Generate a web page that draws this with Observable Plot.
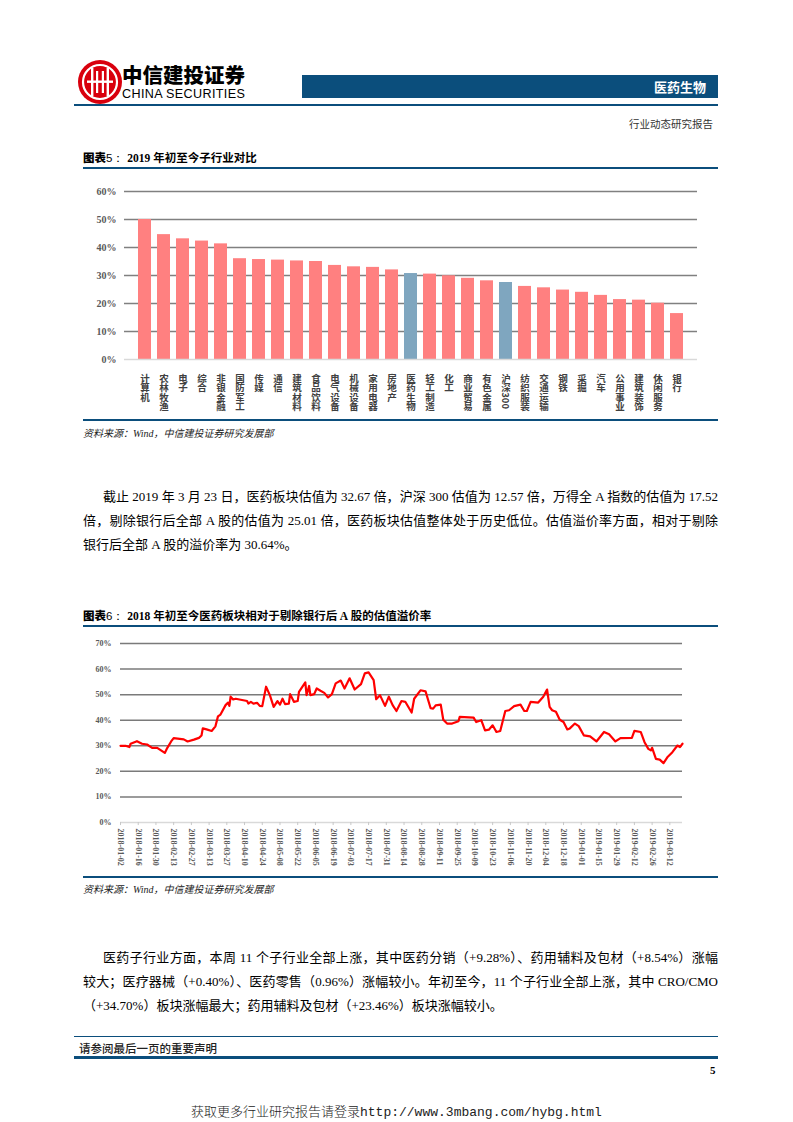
<!DOCTYPE html>
<html><head><meta charset="utf-8">
<script src="https://cdn.jsdelivr.net/npm/d3@7"></script>
<script src="https://cdn.jsdelivr.net/npm/@observablehq/plot@0.6"></script>
<style>
body{margin:0;background:#fff;}
#page{position:relative;width:793px;height:1122px;overflow:hidden;font-family:"Liberation Serif","Noto Sans CJK SC",serif;color:#000;}
.abs{position:absolute;white-space:nowrap;}
.rule{position:absolute;background:#0b4e7c;}
.body{position:absolute;font-size:13px;line-height:24px;font-weight:400;white-space:nowrap;}
.just{text-align:justify;text-align-last:justify;text-justify:inter-character;}
.src{position:absolute;font-size:10px;font-style:italic;color:#222;white-space:nowrap;}
</style></head><body><div id="page">

<svg class="abs" style="left:77px;top:59px" width="46" height="46" viewBox="0 0 46 46">
  <circle cx="23" cy="23" r="22" fill="#d9000d"/>
  <circle cx="23" cy="23" r="17" fill="none" stroke="#fff" stroke-width="2.2"/>
  <rect x="14" y="9" width="2.4" height="28" fill="#fff"/>
  <rect x="29.6" y="9" width="2.4" height="28" fill="#fff"/>
  <rect x="19" y="12" width="2.2" height="22" fill="#fff"/>
  <rect x="24.8" y="12" width="2.2" height="22" fill="#fff"/>
  <rect x="10" y="21.5" width="26" height="2.4" fill="#fff"/>
</svg>
<div class="abs" style="left:122px;top:64px;font-family:'Noto Sans CJK SC';font-weight:900;font-size:20.5px;line-height:20px;">中信建投证券</div>
<div class="abs" style="left:122px;top:88px;font-family:'Liberation Sans';font-size:12.6px;line-height:12px;letter-spacing:0.35px">CHINA SECURITIES</div>
<div class="abs" style="left:302px;top:75px;width:416px;height:23px;background:#0b4e7c;"></div>
<div class="abs" style="left:654px;top:78px;color:#fff;font-family:'Noto Sans CJK SC';font-weight:700;font-size:13px;line-height:17px">医药生物</div>
<div class="rule" style="left:74px;top:104px;width:644px;height:2px"></div>
<div class="abs" style="left:629px;top:117px;font-family:'Noto Sans CJK SC';font-size:10.5px;line-height:14px;color:#333">行业动态研究报告</div>

<div class="abs" style="left:83px;top:149px;font-size:11.5px;line-height:16px"><span style="font-family:'Noto Sans CJK SC';font-weight:900">图表</span><span style="font-family:'Liberation Sans'">5：</span> <b style="font-family:'Liberation Serif'">2019</b> <span style="font-family:'Noto Sans CJK SC';font-weight:700">年初至今子行业对比</span></div>
<div class="rule" style="left:83px;top:167px;width:635px;height:2px"></div>
<div id="chart1" class="abs" style="left:83px;top:180px"></div>
<div class="rule" style="left:83px;top:419px;width:635px;height:2px"></div>
<div class="src" style="left:83px;top:425px">资料来源：Wind，中信建投证券研究发展部</div>

<div class="body just" style="left:103px;top:485px;width:615px">截止 2019 年 3 月 23 日，医药板块估值为 32.67 倍，沪深 300 估值为 12.57 倍，万得全 A 指数的估值为 17.52</div>
<div class="body just" style="left:83px;top:509px;width:635px">倍，剔除银行后全部 A 股的估值为 25.01 倍，医药板块估值整体处于历史低位。估值溢价率方面，相对于剔除</div>
<div class="body" style="left:83px;top:533px">银行后全部 A 股的溢价率为 30.64%。</div>

<div class="abs" style="left:83px;top:607px;font-size:11.5px;line-height:16px"><span style="font-family:'Noto Sans CJK SC';font-weight:900">图表</span><span style="font-family:'Liberation Sans'">6：</span> <b style="font-family:'Liberation Serif'">2018</b> <span style="font-family:'Noto Sans CJK SC';font-weight:700">年初至今医药板块相对于剔除银行后 </span><b style="font-family:'Liberation Serif'">A</b><span style="font-family:'Noto Sans CJK SC';font-weight:700"> 股的估值溢价率</span></div>
<div class="rule" style="left:83px;top:625px;width:635px;height:2px"></div>
<div id="chart2" class="abs" style="left:83px;top:632px"></div>
<div class="rule" style="left:83px;top:876px;width:635px;height:2px"></div>
<div class="src" style="left:83px;top:881px">资料来源：Wind，中信建投证券研究发展部</div>

<div class="body just" style="left:103px;top:946px;width:615px">医药子行业方面，本周 11 个子行业全部上涨，其中医药分销（+9.28%）、药用辅料及包材（+8.54%）涨幅</div>
<div class="body just" style="left:83px;top:970px;width:635px">较大；医疗器械（+0.40%）、医药零售（0.96%）涨幅较小。年初至今，11 个子行业全部上涨，其中 CRO/CMO</div>
<div class="body" style="left:83px;top:994px">（+34.70%）板块涨幅最大；药用辅料及包材（+23.46%）板块涨幅较小。</div>

<div class="rule" style="left:74px;top:1036px;width:644px;height:1px"></div>
<div class="abs" style="left:79px;top:1040px;font-family:'Noto Sans CJK SC';font-size:11.5px;line-height:16px;font-weight:500;color:#222">请参阅最后一页的重要声明</div>
<div class="rule" style="left:74px;top:1056px;width:644px;height:3px"></div>
<div class="abs" style="left:710px;top:1063px;font-family:'Liberation Serif';font-weight:700;font-size:11px;line-height:14px">5</div>

<div class="abs" style="left:191px;top:1102px;font-size:13px;line-height:18px;color:#222"><span style="font-family:'Noto Sans CJK SC';font-weight:300">获取更多行业研究报告请登录</span><span style="font-family:'Liberation Mono'">http://www.3mbang.com/hybg.html</span></div>

</div>
<script>
// ---------- Chart 1 data: 2019 YTD return by industry (%) ----------
const industries = ["计算机","农林牧渔","电子","综合","非银金融","国防军工","传媒","通信","建筑材料","食品饮料","电气设备","机械设备","家用电器","房地产","医药生物","轻工制造","化工","商业贸易","有色金属","沪深300","纺织服装","交通运输","钢铁","采掘","汽车","公用事业","建筑装饰","休闲服务","银行"];
const ytdReturn = [50.0,44.6,43.1,42.3,41.3,36.0,35.7,35.5,35.2,35.0,33.6,33.1,32.9,32.0,30.7,30.5,29.9,29.0,28.1,27.5,26.1,25.6,24.8,24.0,22.9,21.4,21.2,20.1,16.4];
const highlighted = ["医药生物","沪深300"];
const yTicks1 = [0,0.1,0.2,0.3,0.4,0.5,0.6];

// ---------- Chart 2 data: valuation premium (%) ----------
const premDates = [
"2018-01-02","2018-01-06","2018-01-09","2018-01-10","2018-01-15","2018-01-19","2018-01-23","2018-01-27","2018-01-31","2018-02-03",
"2018-02-06","2018-02-08","2018-02-11","2018-02-13","2018-02-21","2018-02-24","2018-03-01","2018-03-05","2018-03-07","2018-03-08",
"2018-03-11","2018-03-15","2018-03-18","2018-03-20","2018-03-22","2018-03-26","2018-03-28","2018-03-29","2018-03-30","2018-04-01",
"2018-04-03","2018-04-12","2018-04-13","2018-04-15","2018-04-17","2018-04-20","2018-04-22","2018-04-24","2018-04-27","2018-04-30",
"2018-05-03","2018-05-06","2018-05-08","2018-05-10","2018-05-12","2018-05-15","2018-05-16","2018-05-19","2018-05-22","2018-05-23",
"2018-05-28","2018-05-29","2018-05-31","2018-06-01","2018-06-04","2018-06-06","2018-06-09","2018-06-12","2018-06-15","2018-06-18",
"2018-06-21","2018-06-25","2018-06-28","2018-07-02","2018-07-06","2018-07-11","2018-07-14","2018-07-17","2018-07-21","2018-07-23",
"2018-07-26","2018-07-30","2018-08-02","2018-08-05","2018-08-08","2018-08-12","2018-08-15","2018-08-20","2018-08-22","2018-08-27",
"2018-08-31","2018-09-04","2018-09-06","2018-09-08","2018-09-12","2018-09-14","2018-09-17","2018-09-21","2018-09-26","2018-09-27",
"2018-10-08","2018-10-10","2018-10-14","2018-10-17","2018-10-20","2018-10-23","2018-10-26","2018-10-29","2018-11-02","2018-11-05",
"2018-11-09","2018-11-14","2018-11-17","2018-11-19","2018-11-22","2018-11-28","2018-12-02","2018-12-05","2018-12-07","2018-12-09",
"2018-12-12","2018-12-15","2018-12-18","2018-12-21","2018-12-23","2018-12-27","2018-12-30","2019-01-03","2019-01-08","2019-01-13",
"2019-01-19","2019-01-23","2019-01-28","2019-02-01","2019-02-10","2019-02-12","2019-02-17","2019-02-20","2019-02-23","2019-02-25",
"2019-02-26","2019-03-01","2019-03-04","2019-03-07","2019-03-10","2019-03-14","2019-03-18","2019-03-20","2019-03-22"];
const premValues = [
30.0,30.0,29.5,30.8,31.8,30.8,30.5,29.2,29.2,28.2,
27.2,29.2,31.7,33.0,32.5,31.7,32.4,33.1,34.0,36.8,
36.4,35.8,37.6,41.5,42.2,45.9,46.9,45.6,49.2,48.1,
48.4,47.5,46.5,47.2,46.5,46.8,45.6,45.5,53.1,49.8,
45.2,47.5,46.1,48.4,46.3,46.5,50.2,47.2,47.5,51.1,
54.8,49.8,53.4,49.8,50.2,52.4,51.5,50.7,48.9,50.2,
54.4,55.5,52.4,56.4,52.0,54.1,58.3,58.7,55.7,48.2,
49.8,45.6,49.2,45.9,43.6,47.5,47.2,43.0,48.4,51.7,
51.3,44.7,44.5,45.8,46.1,40.2,38.7,38.7,39.6,41.3,
41.0,39.3,40.0,36.0,36.3,38.0,35.4,35.8,43.6,43.9,
45.5,46.1,43.6,43.6,47.2,46.9,49.2,52.0,45.2,43.9,
43.3,40.2,39.3,36.4,36.8,38.7,37.7,34.1,33.7,31.7,
35.4,34.5,31.7,33.0,33.1,35.8,35.4,31.4,28.8,28.2,
29.2,24.9,24.6,23.2,25.5,27.5,30.1,29.5,30.8];
const xTickLabels2 = ["2018-01-02","2018-01-16","2018-01-30","2018-02-13","2018-02-27","2018-03-13","2018-03-27","2018-04-10","2018-04-24","2018-05-08","2018-05-22","2018-06-05","2018-06-19","2018-07-03","2018-07-17","2018-07-31","2018-08-14","2018-08-28","2018-09-11","2018-09-25","2018-10-09","2018-10-23","2018-11-06","2018-11-20","2018-12-04","2018-12-18","2019-01-01","2019-01-15","2019-01-29","2019-02-12","2019-02-26","2019-03-12"];
const yTicks2 = [0,0.1,0.2,0.3,0.4,0.5,0.6,0.7];
const xDomain2 = ["2018-01-02","2019-03-22"];

// ---------- Chart 1 ----------
const barData = industries.map((name, i) => ({name, v: ytdReturn[i] / 100, hl: highlighted.includes(name)}));
const chart1 = Plot.plot({
  width: 635, height: 235,
  marginLeft: 41, marginRight: 21, marginTop: 11, marginBottom: 56,
  style: {fontFamily: "'Liberation Serif', serif", fontSize: "10px", fontWeight: "bold", color: "#595959", background: "transparent"},
  x: {domain: industries, padding: 0.29, axis: null},
  y: {domain: [0, 0.6], ticks: yTicks1, tickFormat: d3.format(".0%"), tickSize: 0, tickPadding: 8, label: null},
  marks: [
    Plot.ruleY(yTicks1.filter(d => d > 0), {stroke: "#808080", strokeWidth: 1.5}),
    Plot.barY(barData, {x: "name", y: "v", fill: d => d.hl ? "#7fa6bf" : "#ff8080"}),
    Plot.ruleY([0], {stroke: "#d9d9d9", strokeWidth: 1.5}),
    Plot.text(industries, {x: d => d, y: 0, text: d => d, dy: 7, textAnchor: "start", lineAnchor: "top",
      fontSize: 9.5, fontWeight: "bold", fill: "#404040", fontFamily: "'Noto Sans CJK SC', sans-serif"})
  ]
});
chart1.querySelectorAll('g[aria-label="text"] text').forEach(t => {
  t.style.writingMode = "vertical-rl";
  t.removeAttribute("dy");
});
document.getElementById("chart1").appendChild(chart1);

// ---------- Chart 2 ----------
const lineData = premDates.map((d, i) => ({date: new Date(d), v: premValues[i] / 100}));
const tickDates = xTickLabels2.map(d => new Date(d));
const chart2 = Plot.plot({
  width: 635, height: 240,
  marginLeft: 37, marginRight: 36, marginTop: 11, marginBottom: 50,
  style: {fontFamily: "'Liberation Serif', serif", fontSize: "8px", fontWeight: "bold", color: "#595959", background: "transparent"},
  x: {type: "utc", domain: xDomain2.map(d => new Date(d)), ticks: tickDates, tickFormat: d3.utcFormat("%Y-%m-%d"),
      tickRotate: 90, tickSize: 0, tickPadding: 6, label: null},
  y: {domain: [0, 0.7], ticks: yTicks2, tickFormat: d3.format(".0%"), tickSize: 0, tickPadding: 9, label: null},
  marks: [
    Plot.ruleY(yTicks2.filter(d => d > 0), {stroke: "#7a7a7a", strokeWidth: 1.5}),
    Plot.ruleY([0], {stroke: "#d9d9d9", strokeWidth: 1.5}),
    Plot.ruleX(tickDates, {y1: 0, y2: -0.012, stroke: "#c8c8c8"}),
    Plot.line(lineData, {x: "date", y: "v", stroke: "#ff0000", strokeWidth: 2.2})
  ]
});
document.getElementById("chart2").appendChild(chart2);
</script>
</body></html>
